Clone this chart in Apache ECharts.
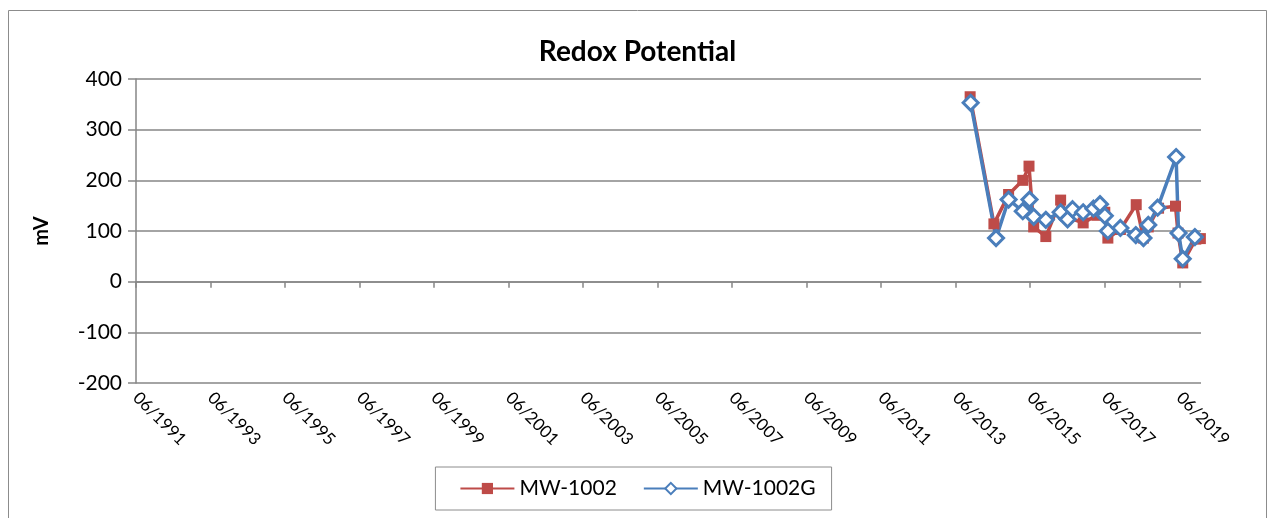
<!DOCTYPE html>
<html>
<head>
<meta charset="utf-8">
<title>Redox Potential</title>
<script src="https://cdn.jsdelivr.net/npm/echarts@6/dist/echarts.min.js"></script>
<style>
  html, body { margin: 0; padding: 0; background: #fff; }
  #main { width: 1275px; height: 518px; }
</style>
</head>
<body>
<div id="main"></div>
<script>
// sample dates and readings (mV)
const mw1002Dates = ['2013-10-20', '2014-06-10', '2014-11-01', '2015-03-20', '2015-05-20', '2015-07-05',
  '2015-11-01', '2016-03-25', '2016-06-01', '2016-11-01', '2017-03-15', '2017-06-01', '2017-07-01',
  '2017-11-01', '2018-04-05', '2018-06-15', '2018-08-01', '2018-11-10', '2019-04-25', '2019-05-20',
  '2019-07-05', '2019-11-10', '2019-12-25'];
const mw1002Values = [365, 114, 172, 200, 228, 108, 89, 161, 127, 116, 131, 137, 86, 103, 152, 86, 108,
  145, 149, 96, 37, 84, 85];

const mw1002gDates = ['2013-10-25', '2014-07-01', '2014-11-01', '2015-03-20', '2015-05-25', '2015-07-05',
  '2015-11-01', '2016-03-25', '2016-06-01', '2016-07-20', '2016-11-01', '2017-02-10', '2017-04-15',
  '2017-06-01', '2017-07-01', '2017-11-01', '2018-04-01', '2018-06-15', '2018-08-01', '2018-11-01',
  '2019-05-01', '2019-05-25', '2019-07-05', '2019-11-01'];
const mw1002gValues = [353, 86, 162, 139, 162, 128, 122, 137, 123, 143, 137, 144, 153, 130, 100, 106, 92,
  86, 112, 146, 246, 96, 45, 88];

// x axis runs in months counted from 06/1991
const tickMonths = [0, 24, 48, 72, 96, 120, 144, 168, 192, 216, 240, 264, 288, 312, 336];
const xMax = 343;

function monthsFrom1991(s) {
  let p = s.split('-').map(Number);
  return (Date.UTC(p[0], p[1] - 1, p[2]) - Date.UTC(1991, 5, 1)) / (86400000 * 30.4375);
}
function pairs(dates, values) {
  return dates.map((d, i) => [monthsFrom1991(d), values[i]]);
}

const font = 'Lato, "Open Sans", sans-serif';
const gridGray = '#868686';

let chart = echarts.init(document.getElementById('main'));
let option = {
  animation: false,
  textStyle: { fontFamily: font },
  graphic: [{
    type: 'rect',
    shape: { x: 8.5, y: 10.5, width: 1258, height: 520 },
    style: { fill: 'none', stroke: '#8c8c8c', lineWidth: 1 },
    silent: true
  }],
  title: {
    text: 'Redox Potential',
    left: 'center',
    top: 33,
    textStyle: { fontFamily: font, fontSize: 28, fontWeight: 'bold', color: '#000' }
  },
  legend: {
    bottom: 8,
    left: 'center',
    itemWidth: 54,
    itemHeight: 14,
    itemGap: 26,
    padding: [11, 16, 11, 24],
    borderColor: '#8c8c8c',
    borderWidth: 1,
    textStyle: { fontFamily: font, fontSize: 21, color: '#000' },
    data: ['MW-1002', 'MW-1002G']
  },
  grid: { left: 136, right: 74, top: 79, bottom: 135 },
  xAxis: {
    type: 'value',
    min: 0,
    max: xMax,
    axisLine: { lineStyle: { color: gridGray, width: 1.5 } },
    axisTick: { customValues: tickMonths, length: 6, lineStyle: { color: gridGray, width: 1.5 } },
    splitLine: { show: false },
    axisLabel: {
      customValues: tickMonths,
      rotate: -45,
      margin: 12,
      fontSize: 17,
      color: '#000',
      fontFamily: font,
      formatter: v => '06/' + (1991 + Math.round(v / 12))
    }
  },
  yAxis: {
    type: 'value',
    min: -200,
    max: 400,
    interval: 100,
    name: 'mV',
    nameLocation: 'middle',
    nameGap: 84,
    nameRotate: 90,
    nameTextStyle: { fontFamily: font, fontSize: 20, fontWeight: 'bold', color: '#000' },
    axisLine: { show: true, lineStyle: { color: gridGray, width: 1.5 } },
    axisTick: { show: true, length: 8, lineStyle: { color: gridGray, width: 1.5 } },
    splitLine: { lineStyle: { color: gridGray, width: 1.5 } },
    axisLabel: { fontSize: 21, color: '#000', margin: 14, fontFamily: font }
  },
  series: [
    {
      name: 'MW-1002',
      type: 'line',
      data: pairs(mw1002Dates, mw1002Values),
      symbol: 'rect',
      symbolSize: 11,
      color: '#BE4B48',
      lineStyle: { width: 3.5, color: '#BE4B48' },
      itemStyle: { color: '#BE4B48' }
    },
    {
      name: 'MW-1002G',
      type: 'line',
      data: pairs(mw1002gDates, mw1002gValues),
      symbol: 'diamond',
      symbolSize: 15,
      color: '#4A7EBB',
      lineStyle: { width: 3.5, color: '#4A7EBB' },
      itemStyle: { color: '#ffffff', borderColor: '#4A7EBB', borderWidth: 3 }
    }
  ]
};
chart.setOption(option);
</script>
</body>
</html>
